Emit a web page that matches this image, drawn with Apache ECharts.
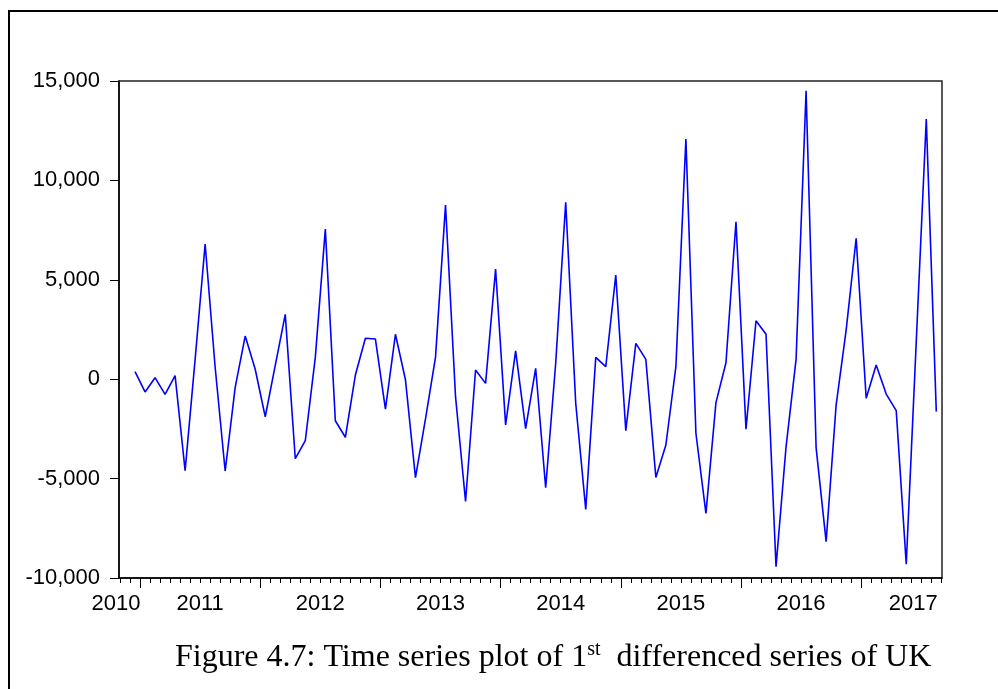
<!DOCTYPE html>
<html>
<head>
<meta charset="utf-8">
<script src="https://cdn.jsdelivr.net/npm/echarts@6/dist/echarts.min.js"></script>
<style>
  html, body { margin: 0; padding: 0; background: #fff; }
  #chart { width: 998px; height: 689px; }
</style>
</head>
<body>
<div id="chart"></div>
<script>
// Monthly first-differenced series, Dec 2010 .. Aug 2017 (index 0 = first observation)
var values = [
  380, -640, 75, -760, 180, -4600, 1000, 6800, 600, -4620, -410, 2170,
  500, -1890, 700, 3260, -4000, -3090, 1100, 7550, -2090, -2920, 210, 2060,
  2020, -1510, 2260, -30, -4950, -2000, 1100, 8760, -880, -6150, 460, -210,
  5540, -2300, 1420, -2490, 550, -5460, 800, 8900, -1210, -6550, 1100, 630,
  5240, -2590, 1800, 1000, -4940, -3310, 630, 12080, -2720, -6750, -1180, 830,
  7920, -2510, 2940, 2260, -9430, -3400, 1000, 14510, -3440, -8170, -1300, 2470,
  7090, -960, 710, -750, -1580, -9310, 1890, 13090, -1630
];
var yearLabels = ['2010', '2011', '2012', '2013', '2014', '2015', '2016', '2017'];
var yearLabelPos = [-1.6, 6.5, 18.5, 30.5, 42.5, 54.5, 66.5, 77.7];
var yearBoundaries = [0.5, 12.5, 24.5, 36.5, 48.5, 60.5, 72.5];
var yTicks = [-10000, -5000, 0, 5000, 10000, 15000];

var xMin = -1.6, xMax = 80.57;
var minorTicks = [];
for (var k = -1.5; k <= 80.5; k += 1) minorTicks.push(k);

var seriesData = values.map(function (v, i) { return [i, v]; });

function fmtThousands(v) {
  var s = Math.abs(v).toString().replace(/\B(?=(\d{3})+(?!\d))/g, ',');
  return (v < 0 ? '-' : '') + s;
}

var chart = echarts.init(document.getElementById('chart'), null, { renderer: 'canvas' });
var sansFont = 'Liberation Sans, Arial, sans-serif';
var serifFont = 'Liberation Serif, Times New Roman, serif';

chart.setOption({
  animation: false,
  backgroundColor: '#fff',
  title: {
    text: '{a|Figure 4.7: Time series plot of 1}{s|st}{a|  differenced series of UK}',
    left: 175,
    top: 638,
    padding: 0,
    textStyle: {
      fontWeight: 'normal',
      rich: {
        a: { fontFamily: serifFont, fontSize: 32, fontWeight: 'normal', color: '#000', verticalAlign: 'bottom', lineHeight: 36 },
        s: { fontFamily: serifFont, fontSize: 20, fontWeight: 'normal', color: '#000', verticalAlign: 'bottom', lineHeight: 36, padding: [0, 0, 14, 0] }
      }
    }
  },
  graphic: [{
    type: 'polyline',
    shape: { points: [[9, 689], [9, 11], [998, 11]] },
    style: { stroke: '#000', lineWidth: 2, fill: null },
    silent: true
  }],
  grid: {
    left: 119, right: 56, top: 81, bottom: 111,
    show: true, borderColor: '#222', borderWidth: 1.5, backgroundColor: 'transparent'
  },
  xAxis: [{
    type: 'value', min: xMin, max: xMax, position: 'bottom',
    axisLine: { show: true, onZero: false, lineStyle: { color: '#000', width: 1.5 } },
    axisTick: { show: true, customValues: minorTicks, length: 5, inside: false, lineStyle: { color: '#000', width: 1 } },
    axisLabel: { show: false },
    splitLine: { show: false }
  }, {
    type: 'value', min: xMin, max: xMax, position: 'bottom', offset: 0,
    axisLine: { show: false, onZero: false },
    axisTick: { show: true, customValues: yearBoundaries, length: 10, inside: false, lineStyle: { color: '#000', width: 1 } },
    axisLabel: {
      show: true, customValues: yearLabelPos, margin: 15,
      fontFamily: sansFont, fontSize: 22, color: '#000',
      formatter: function (v) {
        var best = 0, bd = Infinity;
        for (var j = 0; j < yearLabelPos.length; j++) {
          var d = Math.abs(yearLabelPos[j] - v);
          if (d < bd) { bd = d; best = j; }
        }
        return best === 0 ? '{f|' + yearLabels[best] + '}' : yearLabels[best];
      },
      rich: { f: { fontFamily: sansFont, fontSize: 22, color: '#000', padding: [0, 6, 0, 0] } }
    },
    splitLine: { show: false }
  }],
  yAxis: {
    type: 'value', min: yTicks[0], max: yTicks[yTicks.length - 1], interval: 5000,
    axisLine: { show: true, onZero: false, lineStyle: { color: '#000', width: 1.5 } },
    axisTick: { show: true, length: 9, inside: false, lineStyle: { color: '#000', width: 1 } },
    axisLabel: {
      margin: 19, fontFamily: sansFont, fontSize: 22, color: '#000',
      padding: [0, 0, 9, 0],
      formatter: fmtThousands
    },
    splitLine: { show: false }
  },
  series: [{
    type: 'line',
    xAxisIndex: 0,
    data: seriesData,
    showSymbol: false,
    symbol: 'none',
    lineStyle: { color: '#0000FF', width: 1.6 },
    z: 3
  }]
});
</script>
</body>
</html>
